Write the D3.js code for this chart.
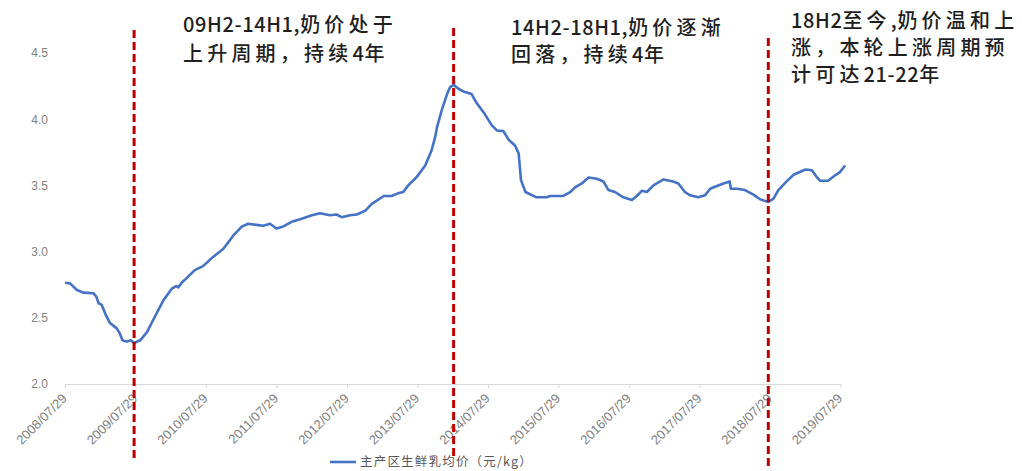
<!DOCTYPE html>
<html>
<head>
<meta charset="utf-8">
<script src="https://cdn.jsdelivr.net/npm/d3@7"></script>
<style>
  html, body { margin: 0; padding: 0; background: #fff; }
  svg { display: block; }
</style>
</head>
<body>
<svg id="chart" width="1022" height="471"></svg>
<script>
// 主产区生鲜乳均价（元/kg），2008/07 – 2019/08
const dates = [
  "2008-07-29","2008-08-24","2008-09-29","2008-11-01","2008-12-24","2009-01-07","2009-01-19","2009-02-03",
  "2009-02-23","2009-03-19","2009-04-23","2009-05-06","2009-05-23","2009-06-13","2009-07-04","2009-07-22",
  "2009-08-22","2009-09-26","2009-11-07","2009-12-20","2010-02-02","2010-02-25","2010-03-07","2010-03-29",
  "2010-04-20","2010-06-01","2010-07-14","2010-09-04","2010-10-26","2010-11-22","2010-12-17","2011-02-01",
  "2011-03-05","2011-04-26","2011-05-22","2011-06-26","2011-07-29","2011-09-03","2011-10-16","2011-11-29",
  "2012-01-29","2012-03-11","2012-05-01","2012-06-04","2012-07-01","2012-08-13","2012-09-18","2012-11-01",
  "2012-12-04","2012-12-30","2013-02-04","2013-03-16","2013-04-19","2013-05-16","2013-06-11","2013-07-26",
  "2013-09-07","2013-10-11","2013-10-29","2013-11-07","2013-12-02","2013-12-29","2014-01-13","2014-02-01",
  "2014-02-26","2014-03-24","2014-05-05","2014-06-01","2014-07-05","2014-08-17","2014-09-13","2014-10-17",
  "2014-11-13","2014-12-17","2015-01-04","2015-01-16","2015-02-08","2015-04-07","2015-05-29","2015-06-15",
  "2015-08-23","2015-09-28","2015-10-23","2015-11-27","2016-01-01","2016-02-13","2016-03-18","2016-04-13",
  "2016-05-17","2016-06-29","2016-08-13","2016-09-07","2016-10-04","2016-10-29","2016-12-02","2017-01-23",
  "2017-03-14","2017-04-10","2017-05-14","2017-06-10","2017-07-23","2017-08-26","2017-09-22","2017-10-17",
  "2017-11-30","2018-01-01","2018-01-07","2018-02-07","2018-03-21","2018-05-04","2018-06-07","2018-07-20",
  "2018-08-16","2018-09-10","2018-10-23","2018-11-28","2019-01-29","2019-03-03","2019-03-27","2019-04-14",
  "2019-05-26","2019-06-21","2019-07-26","2019-08-22"
];
const prices = [
  2.765,2.76,2.71,2.69,2.685,2.66,2.61,2.60,
  2.53,2.46,2.42,2.39,2.33,2.32,2.33,2.31,
  2.33,2.39,2.51,2.63,2.72,2.74,2.73,2.77,
  2.80,2.86,2.89,2.96,3.02,3.07,3.12,3.19,
  3.21,3.20,3.195,3.21,3.175,3.19,3.225,3.245,
  3.275,3.29,3.275,3.28,3.26,3.275,3.28,3.31,
  3.36,3.385,3.42,3.42,3.44,3.45,3.50,3.565,
  3.65,3.77,3.87,3.94,4.07,4.19,4.24,4.26,
  4.23,4.21,4.19,4.12,4.055,3.955,3.915,3.91,
  3.845,3.80,3.74,3.54,3.45,3.41,3.41,3.42,
  3.42,3.45,3.485,3.515,3.56,3.55,3.53,3.465,
  3.45,3.41,3.39,3.42,3.46,3.45,3.50,3.545,
  3.53,3.515,3.45,3.425,3.41,3.425,3.475,3.49,
  3.515,3.53,3.475,3.475,3.465,3.43,3.395,3.375,
  3.40,3.465,3.53,3.58,3.62,3.615,3.565,3.535,
  3.535,3.565,3.60,3.65
];

const xTickLabels = [
  "2008/07/29","2009/07/29","2010/07/29","2011/07/29","2012/07/29","2013/07/29",
  "2014/07/29","2015/07/29","2016/07/29","2017/07/29","2018/07/29","2019/07/29"
];
const yTicks = [2.0, 2.5, 3.0, 3.5, 4.0, 4.5];

// Turning points of the price cycle
const cycleDates = ["2009-07-22", "2014-02-01", "2018-07-20"];

const notes = [
  ["09H2-14H1,奶价处于", "上升周期，持续4年"],
  ["14H2-18H1,奶价逐渐", "回落，持续4年"],
  ["18H2至今,奶价温和上", "涨，本轮上涨周期预", "计可达21-22年"]
];

const seriesName = "主产区生鲜乳均价（元/kg）";

const parse = d3.utcParse("%Y-%m-%d");
const parseTick = d3.utcParse("%Y/%m/%d");
const data = dates.map((d, i) => ({ date: parse(d), value: prices[i] }));
const tickDates = xTickLabels.map(parseTick);

const svg = d3.select("#chart");

const x = d3.scaleUtc()
  .domain([tickDates[0], tickDates[tickDates.length - 1]])
  .range([65, 840.5]);
const y = d3.scaleLinear().domain([2.0, 4.5]).range([384, 53]);

// y axis labels (no axis line)
const yAxis = d3.axisLeft(y).tickValues(yTicks).tickFormat(d3.format(".1f")).tickSize(0).tickPadding(0);
const gy = svg.append("g").attr("transform", "translate(48,0)").call(yAxis);
gy.select(".domain").remove();
gy.selectAll("text")
  .attr("font-family", "Liberation Sans, Arial, sans-serif")
  .attr("font-size", 12)
  .attr("fill", "#7f7f7f");

// x axis
const xAxis = d3.axisBottom(x).tickValues(tickDates).tickFormat((d, i) => xTickLabels[i]).tickSize(4).tickSizeOuter(0);
const gx = svg.append("g").attr("transform", "translate(0,384)").call(xAxis);
gx.select(".domain").attr("stroke", "#d9d9d9").attr("stroke-width", 1.2);
gx.selectAll(".tick line").attr("stroke", "#d9d9d9");
gx.selectAll("text")
  .attr("font-family", "Liberation Sans, Arial, sans-serif")
  .attr("font-size", 13)
  .attr("fill", "#7f7f7f")
  .attr("text-anchor", "end")
  .attr("x", 0)
  .attr("y", 0)
  .attr("dy", "0.35em")
  .attr("transform", "translate(-1,12) rotate(-45)");

// price line
const line = d3.line().x(d => x(d.date)).y(d => y(d.value));
svg.append("path")
  .datum(data)
  .attr("fill", "none")
  .attr("stroke", "#4472c4")
  .attr("stroke-width", 2.6)
  .attr("stroke-linejoin", "round")
  .attr("d", line);

// dashed cycle markers
const markerSpans = [[30, 458], [28, 458], [38, 468]];
svg.append("g").selectAll("line")
  .data(cycleDates)
  .join("line")
  .attr("x1", d => x(parse(d)))
  .attr("x2", d => x(parse(d)))
  .attr("y1", (d, i) => markerSpans[i][0])
  .attr("y2", (d, i) => markerSpans[i][1])
  .attr("stroke", "#c00000")
  .attr("stroke-width", 3)
  .attr("stroke-dasharray", "8,4");

// annotations: CJK runs are spaced wider than Latin runs
const noteBoxes = [
  { x: 183, y: 32, lh: 29 },
  { x: 511, y: 35, lh: 27 },
  { x: 791, y: 28, lh: 27 }
];
const runRe = /[\u3000-\u9fff\uff00-\uffef]+|[^\u3000-\u9fff\uff00-\uffef]+/g;
notes.forEach((lines, k) => {
  const b = noteBoxes[k];
  lines.forEach((str, j) => {
    const t = svg.append("text")
      .attr("x", b.x)
      .attr("y", b.y + j * b.lh)
      .attr("font-family", "Noto Sans CJK SC, sans-serif")
      .attr("font-size", 20)
      .attr("font-weight", 500)
      .attr("fill", "#1f1f1f");
    str.match(runRe).forEach(run => {
      const cjk = /[\u3000-\u9fff\uff00-\uffef]/.test(run);
      t.append("tspan").attr("letter-spacing", cjk ? 4.2 : 0.6).text(run);
    });
  });
});

// legend
const lg = svg.append("g").attr("transform", "translate(330,462)");
lg.append("line").attr("x1", 0).attr("x2", 26).attr("y1", 0).attr("y2", 0)
  .attr("stroke", "#4472c4").attr("stroke-width", 2.6);
lg.append("text").attr("x", 30).attr("y", 0).attr("dy", "0.35em")
  .attr("font-family", "Noto Sans CJK SC, sans-serif")
  .attr("font-size", 12.5).attr("letter-spacing", 1.2).attr("fill", "#595959")
  .text(seriesName);
</script>
</body>
</html>
